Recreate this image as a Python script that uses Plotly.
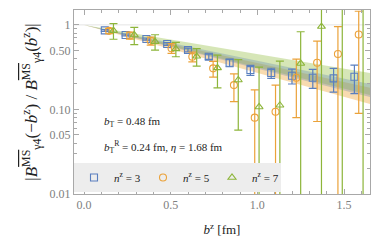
import plotly.graph_objects as go

# ---------------- data ----------------
b3 = [0.12, 0.24, 0.36, 0.48, 0.60, 0.72, 0.84, 0.96, 1.08, 1.20, 1.32, 1.44, 1.56]
v3 = [0.86, 0.76, 0.68, 0.595, 0.505, 0.42, 0.357, 0.292, 0.27, 0.25, 0.237, 0.233, 0.244]
e3 = [0.02, 0.02, 0.02, 0.022, 0.025, 0.03, 0.037, 0.04, 0.037, 0.05, 0.06, 0.073, 0.09]

b5 = [0.145, 0.265, 0.385, 0.505, 0.625, 0.745, 0.865, 0.985, 1.105, 1.225, 1.345, 1.465, 1.585]
v5 = [0.85, 0.75, 0.645, 0.53, 0.42, 0.306, 0.194, 0.08, 0.094, 0.237, 0.357, 0.453, 0.77]
e5 = [0.06, 0.07, 0.07, 0.07, 0.055, 0.065, 0.07, 0.09, 0.1, 0.157, 0.285, 0.5, 0.68]

b7 = [0.17, 0.29, 0.41, 0.53, 0.65, 0.77, 0.89, 1.01, 1.13, 1.25, 1.37, 1.49, 1.61]
v7 = [0.856, 0.76, 0.634, 0.52, 0.425, 0.31, 0.223, 0.107, 0.112, 0.35, 0.955, 1.9, 2.0]
e7 = [0.18, 0.175, 0.13, 0.1, 0.1, 0.13, 0.166, 0.21, 0.26, 0.48, 1.0, 2.2, 2.5]

band_b = [0.0, 1.65]
green_hi = [1.0, 0.27]
green_lo = [1.0, 0.148]
blue_hi = [1.0, 0.2]
blue_lo = [1.0, 0.14]
orange_hi = [1.0, 0.18]
orange_lo = [1.0, 0.116]

y_tickvals = [0.01, 0.05, 0.1, 0.5, 1]
y_ticktext = ["0.01", "0.05", "0.10", "0.50", "1"]
y_minor = [0.02, 0.03, 0.04, 0.06, 0.07, 0.08, 0.09, 0.2, 0.3, 0.4, 0.6, 0.7, 0.8, 0.9]
x_tickvals = [0.0, 0.5, 1.0, 1.5]
x_ticktext = ["0.0", "0.5", "1.0", "1.5"]

BLUE = "#5a7fbf"
ORANGE = "#eba23a"
GREEN = "#8db53a"
SERIF = "Liberation Serif, DejaVu Serif, serif"

fig = go.Figure()

def band(hi, lo, color):
    fig.add_trace(go.Scatter(
        x=band_b + band_b[::-1], y=hi + lo[::-1], fill="toself",
        fillcolor=color, line=dict(width=0), mode="lines",
        showlegend=False, hoverinfo="skip"))

band(orange_hi, orange_lo, "rgba(240,175,80,0.45)")
band(green_hi, green_lo, "rgba(165,200,95,0.45)")
band(blue_hi, blue_lo, "rgba(80,120,170,0.28)")

def series(b, v, e, color, symbol, name):
    fig.add_trace(go.Scatter(
        x=b, y=v, mode="markers", name=name,
        marker=dict(symbol=symbol, size=7, color=color,
                    line=dict(color=color, width=1.1)),
        error_y=dict(type="data", array=e, visible=True, color=color,
                     thickness=1.2, width=4)))

series(b3, v3, e3, BLUE, "square-open", "<i>n</i><sup>z</sup> = 3")
series(b5, v5, e5, ORANGE, "circle-open", "<i>n</i><sup>z</sup> = 5")
series(b7, v7, e7, GREEN, "triangle-up-open", "<i>n</i><sup>z</sup> = 7")

fig.add_hline(y=1, line=dict(color="#e4e4e4", width=1), layer="below")

axis_common = dict(showline=True, linecolor="#a8a8a8", linewidth=1, mirror="allticks",
                   ticks="inside", ticklen=5, tickcolor="#a8a8a8", showgrid=False,
                   zeroline=False, automargin=False,
                   tickfont=dict(family=SERIF, size=12, color="#808080"))

MS = '<span style="text-decoration:overline">MS</span>'
ytitle = ("|<i>B</i><sup>" + MS + "</sup><sub>γ4</sub>(−<i>b</i><sup>z</sup>) / "
          "<i>B</i><sup>" + MS + "</sup><sub>γ4</sub>(<i>b</i><sup>z</sup>)|")

fig.update_xaxes(range=[-0.0577, 1.65], tickmode="array", tickvals=x_tickvals,
                 ticktext=x_ticktext,
                 minor=dict(dtick=0.1, ticks="inside", ticklen=3, tickcolor="#a8a8a8"),
                 title=dict(text="<i>b</i><sup>z</sup> [fm]",
                            font=dict(family=SERIF, size=13, color="#222"), standoff=13),
                 **axis_common)
fig.update_yaxes(type="log", range=[-2.0, 0.176], tickmode="array", tickvals=y_tickvals,
                 ticktext=y_ticktext,
                 minor=dict(tickvals=y_minor, ticks="inside", ticklen=3, tickcolor="#a8a8a8"),
                 title=dict(text=ytitle,
                            font=dict(family=SERIF, size=17, color="#222"), standoff=7),
                 **axis_common)

fig.add_annotation(xref="paper", yref="paper", x=0.094, y=0.39, xanchor="left",
                   yanchor="middle", showarrow=False,
                   text="<i>b</i><sub>T</sub> = 0.48 fm",
                   font=dict(family=SERIF, size=11, color="#222"))
fig.add_annotation(xref="paper", yref="paper", x=0.094, y=0.257, xanchor="left",
                   yanchor="middle", showarrow=False,
                   text="<i>b</i><sub>T</sub><sup>R</sup> = 0.24 fm, <i>η</i> = 1.68 fm",
                   font=dict(family=SERIF, size=11, color="#222"))

# page body has an 8px default margin: size the figure so the plot area lands
# at the reference pixel positions
fig.update_layout(
    width=374, height=235,
    margin=dict(l=66, r=12, t=2, b=49),
    paper_bgcolor="white", plot_bgcolor="white",
    legend=dict(orientation="h", x=0, xanchor="left", y=0.011, yanchor="bottom",
                bgcolor="#ededed", borderwidth=0,
                font=dict(family=SERIF, size=11, color="#222"),
                itemwidth=30, tracegroupgap=0,
                entrywidth=24, entrywidthmode="pixels"),
)

fig.write_html("out.html")
